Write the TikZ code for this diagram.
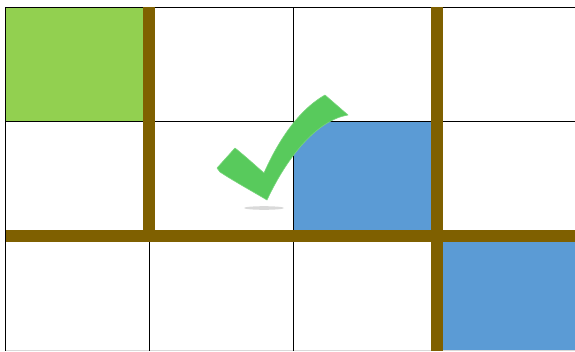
\documentclass[tikz,border=0pt]{standalone}
\usepackage{xcolor}
\usepackage{tikz}

\definecolor{goalgreen}{RGB}{146,208,80}
\definecolor{boxblue}{RGB}{91,155,213}
\definecolor{wallbrown}{RGB}{127,96,0}
\definecolor{tickgreen}{RGB}{88,202,92}

\begin{document}
\begin{tikzpicture}[
    x=0.5mm, y=-0.5mm,
    gridline/.style={draw=black, line width=0.5mm},
    wall/.style={draw=wallbrown, line width=6mm},
    tick/.style={fill=tickgreen, draw=tickgreen!80!white, line width=0.3mm, line join=round},
]

\useasboundingbox (0,0) rectangle (575,351);

% coloured cells
\fill[goalgreen] (5,7) rectangle (149,121);
\fill[boxblue] (293,121) rectangle (437,235);
\fill[boxblue] (437,235) rectangle (575,351);

% grid
\draw[gridline] (5,7) -- (575,7);
\draw[gridline] (5,121) -- (575,121);
\draw[gridline] (5,235) -- (575,235);
\draw[draw=black!15, line width=0.5mm] (5,350) -- (575,350);
\foreach \x in {5,149,293,437}
    \draw[gridline] (\x,7) -- (\x,351);

% walls
\draw[wall] (149,7) -- (149,236);
\draw[wall] (437,7) -- (437,351);
\draw[wall] (6,236) -- (575,236);

% check mark with its shadow
\fill[black!15] (264,208) ellipse (20 and 1.8);
\path[tick] (217,168) -- (235,148)
    .. controls (245,156) and (256,166) .. (264,173)
    .. controls (275,148) and (295,112) .. (325,95)
    -- (348,115)
    .. controls (318,120) and (288,155) .. (267,200)
    .. controls (250,190) and (232,180) .. (220,172)
    -- cycle;

\end{tikzpicture}
\end{document}
